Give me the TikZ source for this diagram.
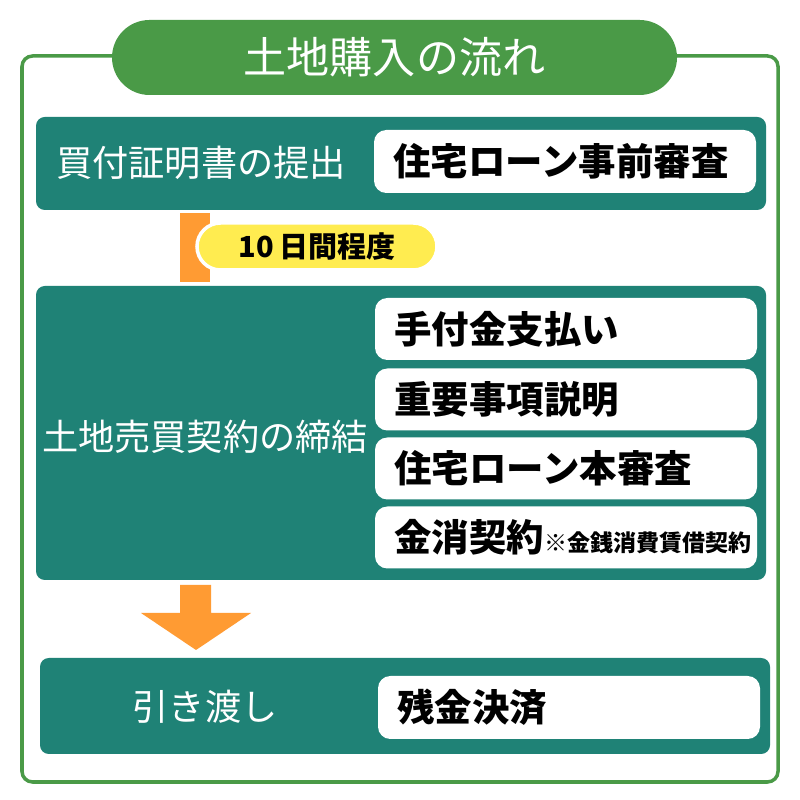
\documentclass[tikz,border=0pt]{standalone}
\usepackage{fontspec}
\setmainfont{Noto Sans CJK JP}
\usepackage{xcolor}
\usepackage{tikz}
\usetikzlibrary{positioning}

\definecolor{framegreen}{RGB}{74,154,71}
\definecolor{stageteal}{RGB}{31,130,118}
\definecolor{flowOrange}{RGB}{255,155,51}
\definecolor{noteYellow}{RGB}{255,236,80}

\begin{document}
\begin{tikzpicture}[
  font=\fontsize{21.3}{25}\selectfont,
  frame/.style={
    rectangle, rounded corners=6pt, draw=framegreen, line width=2pt,
    fill=white, minimum width=15.12cm, minimum height=14.52cm
  },
  titlepill/.style={
    rectangle, rounded corners=0.75cm, fill=framegreen, text=white,
    minimum width=11.3cm, minimum height=1.5cm,
    font=\fontsize{24.5}{28}\selectfont
  },
  stage/.style={
    rectangle, rounded corners=5pt, fill=stageteal,
    minimum width=14.6cm
  },
  stagelbl/.style={text=white, inner sep=0pt,
    font=\fontsize{20.6}{24}\selectfont},
  task/.style={
    rectangle, rounded corners=7pt, fill=white,
    text width=6.86cm, inner xsep=0.39cm, minimum height=1.24cm,
    align=left, font=\fontsize{21.3}{25}\selectfont\bfseries
  },
  gapbar/.style={
    rectangle, fill=flowOrange, minimum width=0.6cm, minimum height=1.38cm,
    inner sep=0pt
  },
  gapnote/.style={
    rectangle, rounded corners=0.47cm, fill=noteYellow, draw=white,
    line width=2pt, minimum width=4.8cm, minimum height=0.94cm,
    font=\fontsize{16.5}{19}\selectfont\bfseries
  },
  flowarrow/.style={fill=flowOrange}
]
\useasboundingbox (0,0) rectangle (16,16);

% outer frame and title
\node[frame] (frame) at (8.0,7.62) {};
\node[titlepill] (title) at (7.89,14.85) {土地購入の流れ};

% step 1
\node[stage, minimum height=1.86cm] (s1) at (8.02,12.73) {};
\node[stagelbl] (s1lbl) at (4.02,12.74) {買付証明書の提出};
\node[task, minimum height=1.26cm] (t1) at (11.3,12.77) {住宅ローン事前審査};

% waiting time
\node[gapbar] (bar) at (3.9,11.05) {};
\node[gapnote] (wait) at (6.34,11.07) {10\,日間程度};

% step 2
\node[stage, minimum height=5.88cm] (s2) at (8.02,7.34) {};
\node[stagelbl] (s2lbl) at (4.1,7.26) {土地売買契約の締結};
\node[task] (t2a) at (11.32,9.42) {手付金支払い};
\node[task] (t2b) at (11.32,8.01) {重要事項説明};
\node[task] (t2c) at (11.32,6.63) {住宅ローン本審査};
\node[task] (t2d) at (11.32,5.25)
  {金消契約{\fontsize{13.1}{15}\selectfont ※金銭消費賃借契約}};

% down arrow
\fill[flowarrow] (3.6,4.3) -- (4.22,4.3) -- (4.22,3.74) -- (5.02,3.74)
  -- (3.92,3.0) -- (2.82,3.74) -- (3.6,3.74) -- cycle;

% step 3
\node[stage, minimum height=1.92cm] (s3) at (8.1,1.88) {};
\node[stagelbl] (s3lbl) at (4.1,1.86) {引き渡し};
\node[task, minimum height=1.26cm] (t3) at (11.38,1.85) {残金決済};

\end{tikzpicture}
\end{document}
